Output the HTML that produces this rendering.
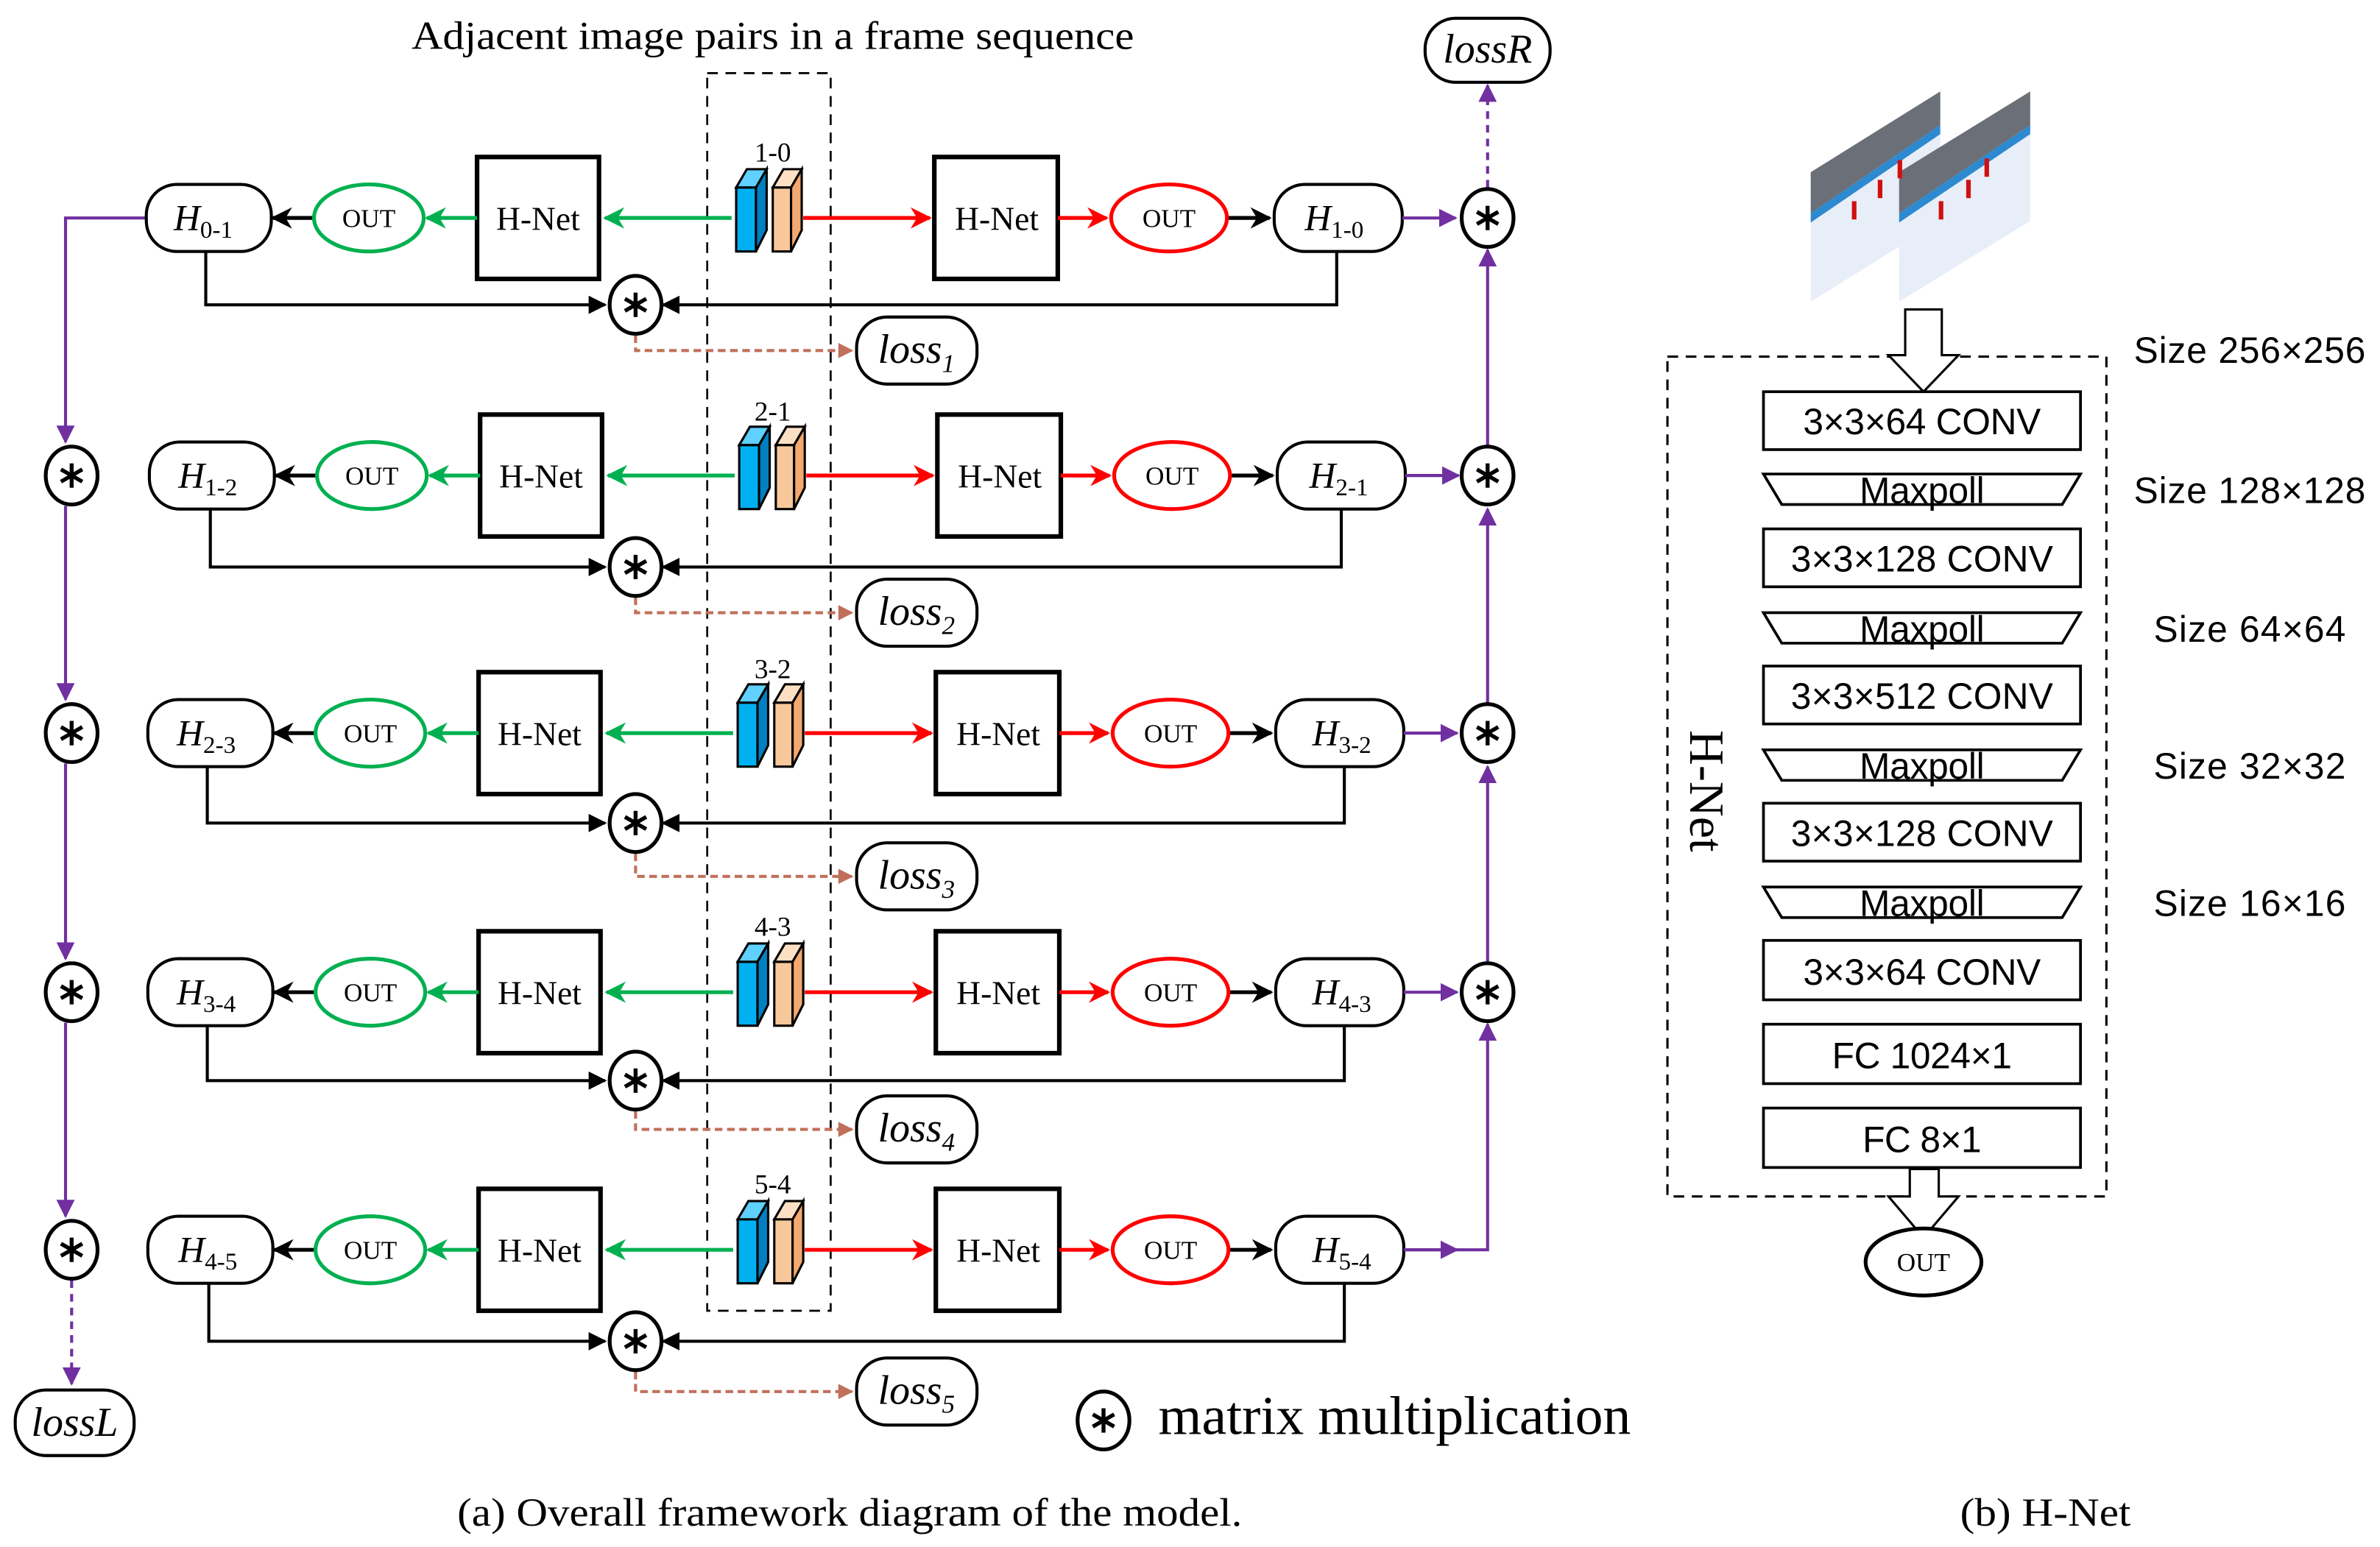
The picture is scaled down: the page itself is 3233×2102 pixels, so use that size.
<!DOCTYPE html>
<html><head><meta charset="utf-8"><style>
html,body{margin:0;padding:0;background:#fff;}
svg{display:block;}
.t{font-family:"Liberation Serif",serif;}
.a{font-family:"Liberation Sans",sans-serif;}
</style></head><body>
<svg width="3233" height="2102" viewBox="0 0 1561.5 1015" preserveAspectRatio="none" xmlns="http://www.w3.org/2000/svg">
<defs>
<marker id="mg" viewBox="0 0 10 10" refX="9" refY="5" markerWidth="14" markerHeight="14" orient="auto" markerUnits="userSpaceOnUse"><path d="M0,0 L10,5 L0,10 L3,5 z" fill="#00b050"/></marker>
<marker id="mr" viewBox="0 0 10 10" refX="9" refY="5" markerWidth="14" markerHeight="14" orient="auto" markerUnits="userSpaceOnUse"><path d="M0,0 L10,5 L0,10 L3,5 z" fill="#ff0000"/></marker>
<marker id="mb" viewBox="0 0 10 10" refX="9" refY="5" markerWidth="14" markerHeight="14" orient="auto" markerUnits="userSpaceOnUse"><path d="M0,0 L10,5 L0,10 L3,5 z" fill="#000"/></marker>
<marker id="mB" viewBox="0 0 10 10" refX="9" refY="5" markerWidth="12" markerHeight="12" orient="auto" markerUnits="userSpaceOnUse"><path d="M0,0 L10,5 L0,10 z" fill="#000"/></marker>
<marker id="mp" viewBox="0 0 10 10" refX="9" refY="5" markerWidth="12" markerHeight="12" orient="auto" markerUnits="userSpaceOnUse"><path d="M0,0 L10,5 L0,10 z" fill="#7030a0"/></marker>
<marker id="mo" viewBox="0 0 10 10" refX="9" refY="5" markerWidth="10" markerHeight="10" orient="auto" markerUnits="userSpaceOnUse"><path d="M0,0 L10,5 L0,10 z" fill="#c0705a"/></marker>
<g id="st"><ellipse cx="0" cy="0" rx="17" ry="19" fill="#fff" stroke="#000" stroke-width="2.5"/><path d="M0,-8 V8 M-7,-4 L7,4 M-7,4 L7,-4" stroke="#000" stroke-width="2.6"/></g>
<g id="pair">
<polygon points="483,-20 496,-20 496,22 483,22" fill="#00b0f0" stroke="#000" stroke-width="1.5"/>
<polygon points="483,-20 490,-32 503,-32 496,-20" fill="#5fd0ff" stroke="#000" stroke-width="1.5"/>
<polygon points="496,-20 503,-32 503,8 496,22" fill="#0080c0" stroke="#000" stroke-width="1.5"/>
<polygon points="507,-20 519,-20 519,22 507,22" fill="#f8c89a" stroke="#000" stroke-width="1.5"/>
<polygon points="507,-20 514,-32 526,-32 519,-20" fill="#fde0c4" stroke="#000" stroke-width="1.5"/>
<polygon points="519,-20 526,-32 526,8 519,22" fill="#f4a870" stroke="#000" stroke-width="1.5"/>
</g>
<g id="row">
<rect x="313" y="-40" width="80" height="80" fill="#fff" stroke="#000" stroke-width="3"/>
<rect x="613" y="-40" width="81" height="80" fill="#fff" stroke="#000" stroke-width="3"/>
<line x1="480" y1="0" x2="397" y2="0" stroke="#00b050" stroke-width="2.5" marker-end="url(#mg)"/>
<line x1="313" y1="0" x2="280" y2="0" stroke="#00b050" stroke-width="2.5" marker-end="url(#mg)"/>
<line x1="527" y1="0" x2="610" y2="0" stroke="#ff0000" stroke-width="2.5" marker-end="url(#mr)"/>
<line x1="694" y1="0" x2="726" y2="0" stroke="#ff0000" stroke-width="2.5" marker-end="url(#mr)"/>
<line x1="205" y1="0" x2="179" y2="0" stroke="#000" stroke-width="2.5" marker-end="url(#mb)"/>
<line x1="805" y1="0" x2="833" y2="0" stroke="#000" stroke-width="2.5" marker-end="url(#mb)"/>
<ellipse cx="242" cy="0" rx="36" ry="22" fill="#fff" stroke="#00b050" stroke-width="2.5"/>
<ellipse cx="767" cy="0" rx="38" ry="22" fill="#fff" stroke="#ff0000" stroke-width="2.5"/>
<rect x="96" y="-22" width="82" height="44" rx="20" fill="#fff" stroke="#000" stroke-width="2"/>
<rect x="836" y="-22" width="84" height="44" rx="20" fill="#fff" stroke="#000" stroke-width="2"/>
<use href="#pair"/>
<line x1="920" y1="0" x2="955" y2="0" stroke="#7030a0" stroke-width="2" marker-end="url(#mp)"/>
</g>
</defs>

<rect x="464" y="48" width="81" height="812" fill="none" stroke="#000" stroke-width="1.3" stroke-dasharray="7,5"/>
<text x="270" y="32" class="t" font-size="26" textLength="474" lengthAdjust="spacingAndGlyphs">Adjacent image pairs in a frame sequence</text>

<path d="M96,143 H43 V290" stroke="#7030a0" stroke-width="2" fill="none" marker-end="url(#mp)"/>
<line x1="43" y1="332" x2="43" y2="459" stroke="#7030a0" stroke-width="2" marker-end="url(#mp)"/>
<line x1="43" y1="501" x2="43" y2="629" stroke="#7030a0" stroke-width="2" marker-end="url(#mp)"/>
<line x1="43" y1="671" x2="43" y2="798" stroke="#7030a0" stroke-width="2" marker-end="url(#mp)"/>
<line x1="47" y1="840" x2="47" y2="908" stroke="#7030a0" stroke-width="2" stroke-dasharray="5,4" marker-end="url(#mp)"/>
<path d="M920,820 H976 V672" stroke="#7030a0" stroke-width="2" fill="none" marker-end="url(#mp)"/>
<line x1="976" y1="631" x2="976" y2="503" stroke="#7030a0" stroke-width="2" marker-end="url(#mp)"/>
<line x1="976" y1="461" x2="976" y2="334" stroke="#7030a0" stroke-width="2" marker-end="url(#mp)"/>
<line x1="976" y1="292" x2="976" y2="164" stroke="#7030a0" stroke-width="2" marker-end="url(#mp)"/>
<line x1="976" y1="123" x2="976" y2="56" stroke="#7030a0" stroke-width="2" stroke-dasharray="5,4" marker-end="url(#mp)"/>

<g stroke="#000" stroke-width="2" fill="none">
<path d="M135,165 V200 H397" marker-end="url(#mB)"/><path d="M877,165 V200 H435" marker-end="url(#mB)"/>
<path d="M138,334 V372 H397" marker-end="url(#mB)"/><path d="M880,334 V372 H435" marker-end="url(#mB)"/>
<path d="M136,503 V540 H397" marker-end="url(#mB)"/><path d="M882,503 V540 H435" marker-end="url(#mB)"/>
<path d="M136,673 V709 H397" marker-end="url(#mB)"/><path d="M882,673 V709 H435" marker-end="url(#mB)"/>
<path d="M137,842 V880 H397" marker-end="url(#mB)"/><path d="M882,842 V880 H435" marker-end="url(#mB)"/>
</g>
<g stroke="#c0705a" stroke-width="2" fill="none" stroke-dasharray="5,3">
<path d="M417,220 V230 H559" marker-end="url(#mo)"/>
<path d="M417,392 V402 H559" marker-end="url(#mo)"/>
<path d="M417,560 V575 H559" marker-end="url(#mo)"/>
<path d="M417,729 V741 H559" marker-end="url(#mo)"/>
<path d="M417,900 V913 H559" marker-end="url(#mo)"/>
</g>

<use href="#row" transform="translate(0,143)"/>
<use href="#row" transform="translate(2,312)"/>
<use href="#row" transform="translate(1,481)"/>
<use href="#row" transform="translate(1,651)"/>
<use href="#row" transform="translate(1,820)"/>

<use href="#st" x="417" y="200"/><use href="#st" x="417" y="372"/><use href="#st" x="417" y="540"/><use href="#st" x="417" y="709"/><use href="#st" x="417" y="880"/>
<use href="#st" x="47" y="312"/><use href="#st" x="47" y="481"/><use href="#st" x="47" y="651"/><use href="#st" x="47" y="820"/>
<use href="#st" x="976" y="143"/><use href="#st" x="976" y="312"/><use href="#st" x="976" y="481"/><use href="#st" x="976" y="651"/>
<use href="#st" x="724" y="932"/>

<g fill="#fff" stroke="#000" stroke-width="2">
<rect x="562" y="208" width="79" height="44" rx="20"/>
<rect x="562" y="380" width="79" height="44" rx="20"/>
<rect x="562" y="553" width="79" height="44" rx="20"/>
<rect x="562" y="719" width="79" height="44" rx="20"/>
<rect x="562" y="891" width="79" height="44" rx="20"/>
<rect x="10" y="912" width="78" height="43" rx="20"/>
<rect x="935" y="12" width="82" height="42" rx="20"/>
</g>

<!-- right panel -->
<polygon points="1188,113 1273,60 1273,145 1188,198" fill="#e8eef8"/>
<polygon points="1188,113 1273,60 1273,82 1188,140" fill="#6b6f78"/>
<polygon points="1188,140 1273,82 1273,88 1188,146" fill="#2d8ad0"/>
<polygon points="1246,113 1332,60 1332,145 1246,198" fill="#e8eef8"/>
<polygon points="1246,113 1332,60 1332,82 1246,140" fill="#6b6f78"/>
<polygon points="1246,140 1332,82 1332,88 1246,146" fill="#2d8ad0"/>
<g fill="#d01010"><rect x="1215" y="132" width="3" height="12"/><rect x="1232" y="118" width="3" height="12"/><rect x="1245" y="105" width="3" height="12"/><rect x="1272" y="132" width="3" height="12"/><rect x="1290" y="118" width="3" height="12"/><rect x="1302" y="104" width="3" height="12"/></g>

<g transform="translate(-5,-2)">
<rect x="1099" y="236" width="288" height="551" fill="none" stroke="#000" stroke-width="1.5" stroke-dasharray="7,5"/>
<polygon points="1255,205 1279,205 1279,235 1290,235 1267,259 1244,235 1255,235" fill="#fff" stroke="#000" stroke-width="1.5"/>
<polygon points="1258,769 1277,769 1277,787 1290,787 1267,814 1244,787 1258,787" fill="#fff" stroke="#000" stroke-width="1.5"/>
<ellipse cx="1267" cy="830" rx="38" ry="22" fill="#fff" stroke="#000" stroke-width="2.5"/>
<g fill="#fff" stroke="#000" stroke-width="1.8">
<rect x="1162" y="259" width="208" height="38"/>
<rect x="1162" y="349" width="208" height="38"/>
<rect x="1162" y="439" width="208" height="38"/>
<rect x="1162" y="529" width="208" height="38"/>
<rect x="1162" y="619" width="208" height="39"/>
<rect x="1162" y="674" width="208" height="39"/>
<rect x="1162" y="729" width="208" height="39"/>
<polygon points="1162,313 1370,313 1358,333 1174,333"/>
<polygon points="1162,404 1370,404 1358,424 1174,424"/>
<polygon points="1162,494 1370,494 1358,514 1174,514"/>
<polygon points="1162,584 1370,584 1358,604 1174,604"/>
</g>
<text x="1267" y="836" class="t" font-size="17" text-anchor="middle">OUT</text>
<g class="a" font-size="24" text-anchor="middle" lengthAdjust="spacingAndGlyphs">
<text x="1266" y="287" textLength="156">3×3×64 CONV</text>
<text x="1266" y="377" textLength="172">3×3×128 CONV</text>
<text x="1266" y="467" textLength="172">3×3×512 CONV</text>
<text x="1266" y="557" textLength="172">3×3×128 CONV</text>
<text x="1266" y="648" textLength="156">3×3×64 CONV</text>
<text x="1266" y="703" textLength="118">FC 1024×1</text>
<text x="1266" y="758" textLength="78">FC 8×1</text>
<text x="1266" y="332" textLength="82">Maxpoll</text>
<text x="1266" y="423" textLength="82">Maxpoll</text>
<text x="1266" y="513" textLength="82">Maxpoll</text>
<text x="1266" y="603" textLength="82">Maxpoll</text>
</g>
<g class="a" font-size="24" text-anchor="middle" lengthAdjust="spacingAndGlyphs">
<text x="1481" y="240" textLength="152">Size 256×256</text>
<text x="1481" y="332" textLength="152">Size 128×128</text>
<text x="1481" y="423" textLength="126">Size 64×64</text>
<text x="1481" y="513" textLength="126">Size 32×32</text>
<text x="1481" y="603" textLength="126">Size 16×16</text>
</g>
<text x="1114" y="521" class="t" font-size="32" text-anchor="middle" transform="rotate(90 1114 521)">H-Net</text>
</g>

<!-- texts -->
<g class="t" font-size="22" text-anchor="middle">
<text x="353" y="151">H-Net</text><text x="654" y="151">H-Net</text>
<text x="355" y="320">H-Net</text><text x="656" y="320">H-Net</text>
<text x="354" y="489">H-Net</text><text x="655" y="489">H-Net</text>
<text x="354" y="659">H-Net</text><text x="655" y="659">H-Net</text>
<text x="354" y="828">H-Net</text><text x="655" y="828">H-Net</text>
</g>
<g class="t" font-size="17" text-anchor="middle">
<text x="242" y="149">OUT</text><text x="767" y="149">OUT</text>
<text x="244" y="318">OUT</text><text x="769" y="318">OUT</text>
<text x="243" y="487">OUT</text><text x="768" y="487">OUT</text>
<text x="243" y="657">OUT</text><text x="768" y="657">OUT</text>
<text x="243" y="826">OUT</text><text x="768" y="826">OUT</text>
</g>
<g class="t" font-size="18" text-anchor="middle">
<text x="507" y="106">1-0</text><text x="507" y="276">2-1</text><text x="507" y="445">3-2</text><text x="507" y="614">4-3</text><text x="507" y="783">5-4</text>
</g>
<g class="t" font-size="24" font-style="italic">
<text x="114" y="151">H<tspan font-size="16" font-style="normal" dy="5">0-1</tspan></text>
<text x="117" y="320">H<tspan font-size="16" font-style="normal" dy="5">1-2</tspan></text>
<text x="116" y="489">H<tspan font-size="16" font-style="normal" dy="5">2-3</tspan></text>
<text x="116" y="659">H<tspan font-size="16" font-style="normal" dy="5">3-4</tspan></text>
<text x="117" y="828">H<tspan font-size="16" font-style="normal" dy="5">4-5</tspan></text>
<text x="856" y="151">H<tspan font-size="16" font-style="normal" dy="5">1-0</tspan></text>
<text x="859" y="320">H<tspan font-size="16" font-style="normal" dy="5">2-1</tspan></text>
<text x="861" y="489">H<tspan font-size="16" font-style="normal" dy="5">3-2</tspan></text>
<text x="861" y="659">H<tspan font-size="16" font-style="normal" dy="5">4-3</tspan></text>
<text x="861" y="828">H<tspan font-size="16" font-style="normal" dy="5">5-4</tspan></text>
</g>
<g class="t" font-size="27" font-style="italic">
<text x="576" y="238">loss<tspan font-size="17" dy="6">1</tspan></text>
<text x="576" y="410">loss<tspan font-size="17" dy="6">2</tspan></text>
<text x="576" y="583">loss<tspan font-size="17" dy="6">3</tspan></text>
<text x="576" y="749">loss<tspan font-size="17" dy="6">4</tspan></text>
<text x="576" y="921">loss<tspan font-size="17" dy="6">5</tspan></text>
<text x="49" y="942" text-anchor="middle">lossL</text>
<text x="976" y="41" text-anchor="middle">lossR</text>
</g>
<text x="760" y="941" class="t" font-size="36" textLength="310" lengthAdjust="spacingAndGlyphs">matrix multiplication</text>
<text x="300" y="1001" class="t" font-size="26" textLength="515" lengthAdjust="spacingAndGlyphs">(a) Overall framework diagram of the model.</text>
<text x="1286" y="1001" class="t" font-size="26" textLength="112" lengthAdjust="spacingAndGlyphs">(b) H-Net</text>
</svg>
</body></html>
